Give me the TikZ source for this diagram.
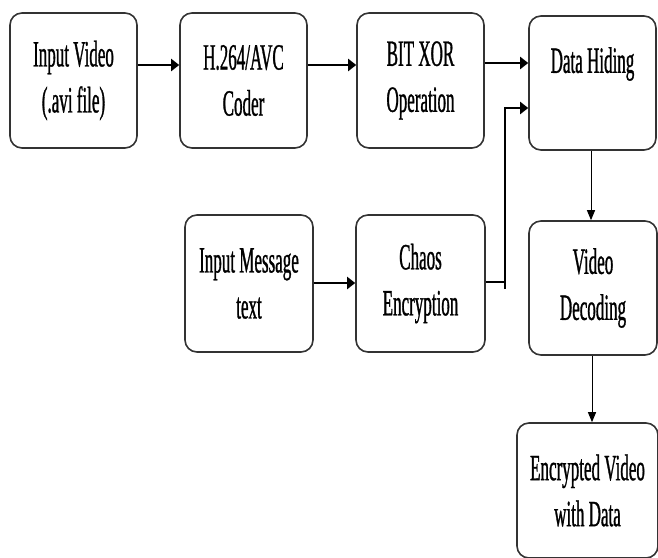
\documentclass[tikz,border=0pt]{standalone}
\usepackage{fontspec}
\setmainfont[FakeStretch=0.46,FakeBold=0.8]{Liberation Serif}
\usetikzlibrary{arrows.meta}
\begin{document}
\begin{tikzpicture}[x=1pt,y=-1pt,
  box/.style={draw=black!80, line width=1.6pt, rounded corners=12pt, align=center,
    font=\fontsize{37}{46}\selectfont, inner sep=0pt, minimum width=127pt, minimum height=135pt},
  harr/.style={line width=2pt, -{Triangle[length=8pt,width=12pt]}},
  hline/.style={line width=2pt},
  varr/.style={line width=1pt, -{Triangle[length=10pt,width=8pt]}}]
\useasboundingbox (0,0) rectangle (658,557);
\node[box] (b1) at (73.5,80.5) {Input Video\\(.avi file)};
\node[box] (b2) at (243.5,80.5) {H.264/AVC\\Coder};
\node[box] (b3) at (420.5,80.5) {BIT XOR\\Operation};
\node[box, minimum height=134pt] (b4) at (592.5,83) {Data Hiding\\\mbox{}};
\node[box, minimum width=128pt, minimum height=137pt] (b5) at (249,283.5) {Input Message\\text};
\node[box, minimum width=129pt, minimum height=137pt] (b6) at (420.5,283.5) {Chaos\\Encryption};
\node[box, minimum width=128pt, minimum height=134pt] (b7) at (593,288) {Video\\Decoding};
\node[box, minimum width=141pt] (b8) at (587.5,490.5) {Encrypted Video\\with Data};
\draw[harr] ([yshift=15.5pt]b1.east) -- ([yshift=15.5pt]b2.west);
\draw[harr] ([yshift=15.5pt]b2.east) -- ([yshift=15.5pt]b3.west);
\draw[harr] ([yshift=17.5pt]b3.east) -- ([yshift=20pt]b4.west);
\draw[harr] ([yshift=0.5pt]b5.east) -- ([yshift=0.5pt]b6.west);
\coordinate (j) at (505,289);
\draw[hline] ([yshift=1.5pt]b6.east) -- ([yshift=1.5pt]b6.east -| j);
\draw[harr] (j) |- ([yshift=-25pt]b4.west);
\draw[varr] ([xshift=-1.5pt]b4.south) -- ([xshift=-2pt]b7.north);
\draw[varr] ([xshift=-1pt]b7.south) -- ([xshift=4.5pt]b8.north);
\end{tikzpicture}
\end{document}
